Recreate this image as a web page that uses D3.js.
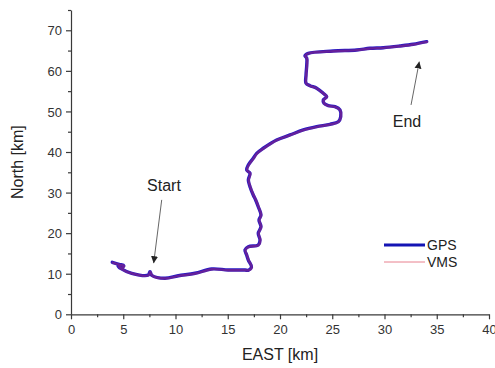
<!DOCTYPE html>
<html>
<head>
<meta charset="utf-8">
<script src="https://cdn.jsdelivr.net/npm/d3@7"></script>
<style>
  html, body { margin: 0; padding: 0; background: #fff; }
  svg { display: block; font-family: "Liberation Sans", Arial, sans-serif; }
</style>
</head>
<body>
<svg id="chart" width="495" height="368"></svg>
<script>
// Vehicle track, east / north offsets in km
const gpsEast = [3.95, 4.6, 5.05, 4.85, 4.5, 4.75, 5.81, 7.40, 7.56, 7.75, 8.99, 10.27, 11.87, 13.46, 15.05, 16.65,
  16.94, 17.27, 16.97, 16.81, 16.65, 16.97, 17.92, 18.09, 17.92, 18.18, 17.99, 18.18, 17.92, 17.67, 17.44, 17.13,
  16.97, 17.13, 16.81, 16.97, 17.44, 17.77, 18.40, 19.68, 20.96, 22.23, 23.51, 24.78, 25.58, 25.81, 25.74, 25.26,
  24.62, 24.21, 24.14, 24.47, 24.14, 23.51, 22.87, 22.49, 22.49, 22.56, 22.56, 22.39, 22.71, 25.10, 27.34, 28.61,
  29.89, 31.48, 32.76, 34.04];
const gpsNorth = [12.82, 12.3, 12.0, 11.45, 11.9, 11.3, 10.11, 9.69, 10.5, 9.56, 8.87, 9.51, 10.11, 11.17, 10.92, 10.92,
  10.85, 11.66, 13.38, 14.62, 15.85, 16.66, 17.08, 18.32, 19.97, 21.59, 23.24, 24.48, 26.52, 28.17, 29.41, 31.45,
  33.10, 34.75, 35.57, 36.80, 38.45, 39.68, 40.92, 42.96, 44.20, 45.43, 46.24, 46.83, 47.47, 48.71, 50.36, 51.17,
  51.42, 52.01, 52.82, 53.64, 54.47, 55.71, 56.35, 56.94, 58.99, 61.45, 63.10, 63.74, 64.33, 64.90, 65.15, 65.57,
  65.71, 66.13, 66.55, 67.19];
const vmsEast = [4.0, 4.62, 5.08, 4.88, 4.55, 4.8, 5.85, 7.42, 7.58, 7.78, 9.02, 10.3, 11.9, 13.5, 15.08, 16.68,
  16.96, 17.3, 17.0, 16.84, 16.68, 17.0, 17.95, 18.12, 17.95, 18.2, 18.02, 18.2, 17.95, 17.7, 17.47, 17.16,
  17.0, 17.16, 16.84, 17.0, 17.47, 17.8, 18.43, 19.7, 20.98, 22.25, 23.53, 24.8, 25.6, 25.83, 25.76, 25.28,
  24.64, 24.23, 24.16, 24.49, 24.16, 23.53, 22.89, 22.51, 22.51, 22.58, 22.58, 22.41, 22.73, 25.12, 27.36, 28.63,
  29.91, 31.5, 32.78, 34.06];
const vmsNorth = [12.75, 12.25, 11.95, 11.4, 11.85, 11.25, 10.05, 9.64, 10.45, 9.5, 8.82, 9.46, 10.06, 11.12, 10.87, 10.87,
  10.8, 11.61, 13.33, 14.57, 15.8, 16.61, 17.03, 18.27, 19.92, 21.54, 23.19, 24.43, 26.47, 28.12, 29.36, 31.4,
  33.05, 34.7, 35.52, 36.75, 38.4, 39.63, 40.87, 42.91, 44.15, 45.38, 46.19, 46.78, 47.42, 48.66, 50.31, 51.12,
  51.37, 51.96, 52.77, 53.59, 54.42, 55.66, 56.3, 56.89, 58.94, 61.4, 63.05, 63.69, 64.28, 64.85, 65.1, 65.52,
  65.66, 66.08, 66.5, 67.14];

const xTicks = [0, 5, 10, 15, 20, 25, 30, 35, 40];
const yTicks = [0, 10, 20, 30, 40, 50, 60, 70];
const xMinor = [2.5, 7.5, 12.5, 17.5, 22.5, 27.5, 32.5, 37.5];
const yMinor = [5, 15, 25, 35, 45, 55, 65, 75];

// Start / End annotations: label position, arrow tail and arrow tip (km)
const annotations = [
  { text: "Start", label: [8.9, 30.5], tail: [8.68, 28.2], tip: [7.91, 12.6] },
  { text: "End", label: [32.15, 46.2], tail: [32.54, 51.6], tip: [33.33, 62.3] }
];

const svg = d3.select("#chart");
const plotLeft = 71, plotRight = 489, plotTop = 10, plotBottom = 314.3;

const x = d3.scaleLinear().domain([0, 40]).range([plotLeft, plotRight]);
const y = d3.scaleLinear().domain([0, 75]).range([plotBottom, plotTop]);

const axisColor = "#3a3a3a";

// minor ticks
svg.append("g").attr("transform", `translate(0,${plotBottom})`)
  .call(d3.axisBottom(x).tickValues(xMinor).tickSize(3).tickFormat(""))
  .call(g => g.select(".domain").remove());
svg.append("g").attr("transform", `translate(${plotLeft},0)`)
  .call(d3.axisLeft(y).tickValues(yMinor).tickSize(3).tickFormat(""))
  .call(g => g.select(".domain").remove());

// major axes
const xAxis = svg.append("g").attr("transform", `translate(0,${plotBottom})`)
  .call(d3.axisBottom(x).tickValues(xTicks).tickSize(5).tickSizeOuter(0).tickPadding(5));
const yAxis = svg.append("g").attr("transform", `translate(${plotLeft},0)`)
  .call(d3.axisLeft(y).tickValues(yTicks).tickSize(5).tickSizeOuter(0).tickPadding(4));

svg.selectAll(".tick line, .domain").attr("stroke", axisColor).attr("stroke-width", 1.2);
svg.selectAll(".tick text").attr("fill", "#333").attr("font-size", 13)
  .attr("font-family", "'Liberation Sans', Arial, sans-serif");
yAxis.selectAll(".tick text").attr("dy", "0.36em");

// axis titles
svg.append("text").attr("x", (plotLeft + plotRight) / 2).attr("y", 360)
  .attr("text-anchor", "middle").attr("font-size", 16).attr("fill", "#222")
  .text("EAST [km]");
svg.append("text").attr("transform", `translate(23,${(plotTop + plotBottom) / 2}) rotate(-90)`)
  .attr("text-anchor", "middle").attr("font-size", 16).attr("fill", "#222")
  .text("North [km]");

// tracks
const line = d3.line().x(d => x(d[0])).y(d => y(d[1])).curve(d3.curveCatmullRom.alpha(0.5));
const gps = d3.zip(gpsEast, gpsNorth);
const vms = d3.zip(vmsEast, vmsNorth);

svg.append("path").datum(gps).attr("d", line)
  .attr("fill", "none").attr("stroke", "#2418c4").attr("stroke-width", 3.4)
  .attr("stroke-linejoin", "round").attr("stroke-linecap", "round");
svg.append("path").datum(vms).attr("d", line)
  .attr("fill", "none").attr("stroke", "#e03050").attr("stroke-opacity", 0.35)
  .attr("stroke-width", 2.4).attr("stroke-linejoin", "round").attr("stroke-linecap", "round");

// arrows
const defs = svg.append("defs");
defs.append("marker").attr("id", "head").attr("viewBox", "0 0 10 10")
  .attr("refX", 10).attr("refY", 5).attr("markerWidth", 7).attr("markerHeight", 8)
  .attr("markerUnits", "userSpaceOnUse").attr("orient", "auto")
  .append("path").attr("d", "M0,0 L10,5 L0,10 Z").attr("fill", "#222");

const ann = svg.append("g");
annotations.forEach(a => {
  ann.append("line")
    .attr("x1", x(a.tail[0])).attr("y1", y(a.tail[1]))
    .attr("x2", x(a.tip[0])).attr("y2", y(a.tip[1]))
    .attr("stroke", "#555").attr("stroke-width", 0.9)
    .attr("marker-end", "url(#head)");
  ann.append("text").attr("x", x(a.label[0])).attr("y", y(a.label[1]))
    .attr("text-anchor", "middle").attr("font-size", 16).attr("fill", "#222")
    .text(a.text);
});

// legend
const legend = svg.append("g").attr("transform", "translate(384,245)");
legend.append("line").attr("x1", 0).attr("x2", 41).attr("y1", 0).attr("y2", 0)
  .attr("stroke", "#1414b4").attr("stroke-width", 3.2);
legend.append("text").attr("x", 43).attr("y", 5).attr("font-size", 14).attr("fill", "#222").text("GPS");
legend.append("line").attr("x1", 0).attr("x2", 41).attr("y1", 17).attr("y2", 17)
  .attr("stroke", "#e8808e").attr("stroke-width", 1);
legend.append("text").attr("x", 43).attr("y", 22).attr("font-size", 14).attr("fill", "#222").text("VMS");
</script>
</body>
</html>
